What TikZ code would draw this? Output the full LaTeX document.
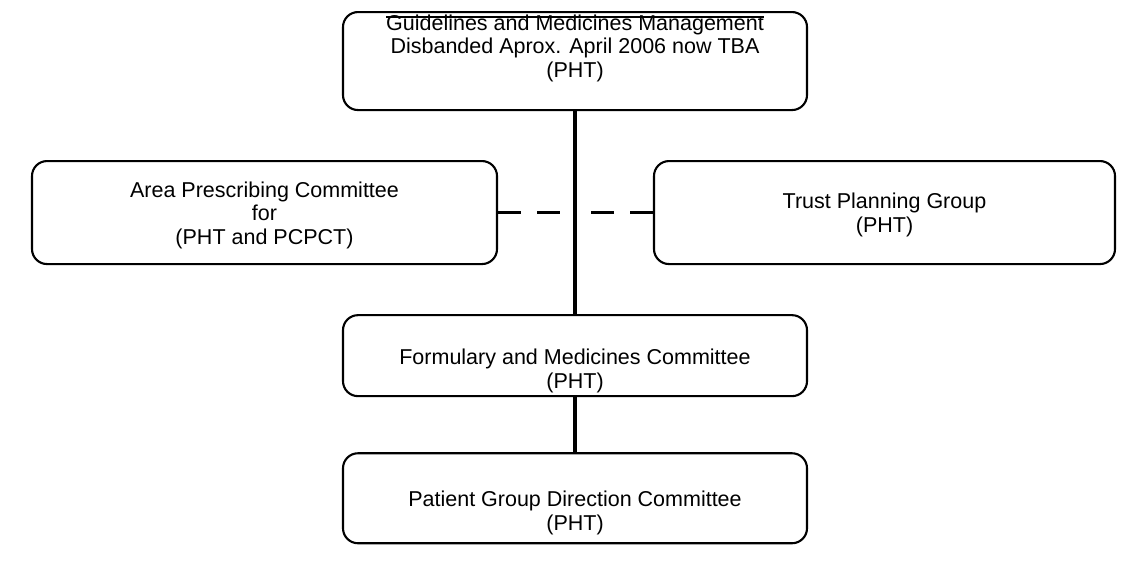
\documentclass[tikz,border=0pt]{standalone}
\usepackage{fontspec}
\setmainfont{Liberation Sans}
\usetikzlibrary{positioning}
\newcommand{\struckout}[1]{\setbox0\hbox{#1}\rlap{\rule[0.58em]{\wd0}{1.1pt}}\box0}

\begin{document}
\begin{tikzpicture}[
  box/.style={draw, line width=2.1pt, rounded corners=15pt, align=center,
              font=\fontsize{21.5}{23.5}\selectfont, minimum width=464pt,
              inner ysep=0pt},
  link/.style={line width=3.8pt},
  dashlink/.style={line width=3.8pt, dash pattern=on 23pt off 16pt},
  node distance=203pt
]
  \useasboundingbox (0,0) rectangle (1122pt,-568pt);
  \node[box, anchor=north, text height=65pt, text depth=33pt] (gmm) at (575pt,-11pt)
    {\struckout{Guidelines and Medicines Management}\\Disbanded Aprox. April 2006 now TBA\\(PHT)};
  \node[box, below=of gmm, text height=73pt, text depth=8pt] (fmc)
    {Formulary and Medicines Committee\\(PHT)};
  \node[box, below=55pt of fmc, text height=77pt, text depth=13pt] (pgd)
    {Patient Group Direction Committee\\(PHT)};
  \node[box, anchor=north, minimum width=465pt, text height=83pt, text depth=20pt] (apc) at (264.5pt,-160pt)
    {Area Prescribing Committee\\for\\(PHT and PCPCT)};
  \node[box, anchor=north, minimum width=461pt, text height=71pt, text depth=32pt] (tpg) at (884.5pt,-160pt)
    {Trust Planning Group\\(PHT)};
  \coordinate (hub) at (gmm.south |- apc.east);

  \draw[link] (gmm) -- (fmc);
  \draw[link] (fmc) -- (pgd);
  \draw[dashlink] (apc) -- (hub);
  \draw[dashlink] (tpg) -- (hub);
\end{tikzpicture}
\end{document}
